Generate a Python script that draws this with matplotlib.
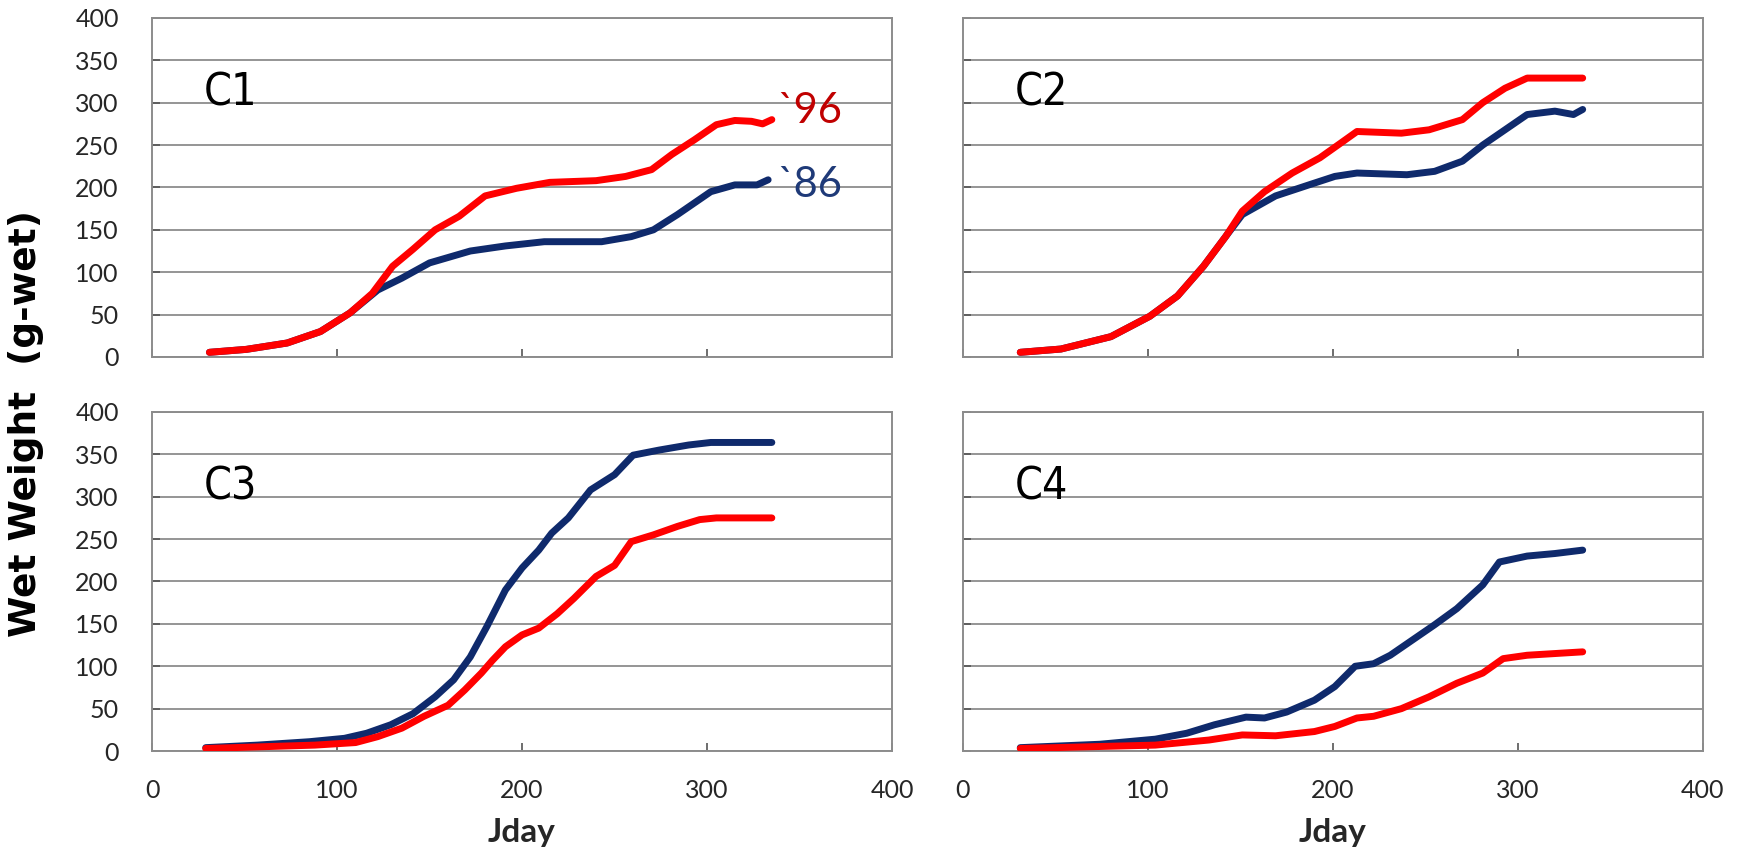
import numpy as np
import matplotlib
matplotlib.use('Agg')
import matplotlib.pyplot as plt

# Datos (Jday, peso humedo en g)
# C1
c1_x_96 = [31, 51, 73, 91, 107, 119, 130, 141, 153, 166, 180, 197, 215, 240, 256, 270, 281, 293, 305, 315, 324, 330, 335]
c1_y_96 = [5.5, 9, 16.5, 30, 52, 75, 107, 127, 150, 166, 190, 199, 206, 208, 213, 221, 239, 256, 274, 279, 278, 275, 280]
c1_x_86 = [31, 51, 73, 91, 107, 122, 135, 150, 172, 191, 212, 243, 259, 271, 284, 302, 315, 327, 333]
c1_y_86 = [5.5, 9, 16.5, 30, 52, 79, 93, 111, 125, 131, 136, 136, 142, 150, 168, 195, 203, 203, 209]
# C2
c2_x_96 = [31, 53, 80, 101, 116, 130, 142, 151, 163, 178, 193, 204, 213, 237, 252, 270, 281, 293, 305, 335]
c2_y_96 = [5.5, 9.4, 24, 48, 72, 107, 142, 172, 195, 217, 235, 252, 266, 264, 268, 280, 300, 317, 329, 329]
c2_x_86 = [31, 53, 80, 101, 116, 130, 142, 151, 169, 187, 201, 213, 240, 255, 270, 281, 293, 305, 320, 330, 335]
c2_y_86 = [5.5, 9.4, 24, 48, 72, 107, 142, 168, 190, 203, 213, 217, 215, 219, 231, 250, 268, 286, 290, 286, 292]
# C3
c3_x_86 = [29, 57, 85, 104, 116, 129, 141, 153, 163, 172, 181, 191, 200, 209, 216, 225, 237, 250, 260, 274, 290, 302, 335]
c3_y_86 = [4, 7, 11, 15, 21, 31, 44, 64, 84, 111, 147, 190, 216, 237, 257, 275, 308, 326, 349, 355, 361, 364, 364]
c3_x_96 = [29, 88, 110, 122, 135, 147, 160, 169, 178, 184, 191, 200, 209, 219, 228, 240, 250, 259, 271, 284, 296, 305, 335]
c3_y_96 = [3, 7, 10, 17, 27, 41, 54, 72, 92, 107, 123, 137, 145, 162, 180, 206, 219, 247, 255, 265, 273, 275, 275]
# C4
c4_x_86 = [31, 74, 104, 121, 136, 153, 163, 175, 190, 201, 212, 222, 231, 243, 255, 267, 281, 290, 305, 320, 335]
c4_y_86 = [4, 8, 14, 21, 31, 40, 39, 46, 60, 76, 100, 103, 113, 131, 149, 168, 196, 223, 230, 233, 237]
c4_x_96 = [31, 104, 133, 151, 169, 190, 201, 213, 222, 237, 252, 267, 281, 292, 305, 320, 335]
c4_y_96 = [3, 7, 13, 19, 18, 23, 29, 39, 41, 50, 64, 80, 92, 109, 113, 115, 117]

paneles = ['C1', 'C2', 'C3', 'C4']
datos = [(c1_x_96, c1_y_96, c1_x_86, c1_y_86),
         (c2_x_96, c2_y_96, c2_x_86, c2_y_86),
         (c3_x_96, c3_y_96, c3_x_86, c3_y_86),
         (c4_x_96, c4_y_96, c4_x_86, c4_y_86)]

rojo = '#FF0000'
azul = '#0F2A6C'
gris = '#8C8C8C'

fig = plt.figure(figsize=(17.4, 8.52), dpi=100)
# posiciones de los ejes [izq, abajo, ancho, alto]
pos = [[0.0874, 0.581, 0.4253, 0.398],
       [0.5534, 0.581, 0.4253, 0.398],
       [0.0874, 0.1185, 0.4253, 0.398],
       [0.5534, 0.1185, 0.4253, 0.398]]

for k in range(4):
    ax = fig.add_axes(pos[k])
    x96, y96, x86, y86 = datos[k]
    # primero la azul y luego la roja encima (en C1/C2 la roja tapa la azul al inicio)
    ax.plot(x86, y86, color=azul, lw=5, solid_capstyle='round', solid_joinstyle='round', zorder=3)
    ax.plot(x96, y96, color=rojo, lw=5, solid_capstyle='round', solid_joinstyle='round', zorder=4)
    ax.set_xlim(0, 400)
    ax.set_ylim(0, 400)
    ax.set_xticks(np.arange(0, 401, 100))
    ax.set_yticks(np.arange(0, 401, 50))
    ax.yaxis.grid(True, color=gris, lw=1.3)
    ax.set_axisbelow(True)
    for s in ax.spines.values():
        s.set_color(gris)
        s.set_linewidth(1.4)
    ax.tick_params(direction='in', length=6, color='#555555', width=1.2,
                   labelsize=18, labelcolor='#262626')
    ax.tick_params(axis='x', pad=20)
    ax.tick_params(axis='y', pad=24)
    for lab in ax.get_xticklabels() + ax.get_yticklabels():
        lab.set_family(['Lato', 'DejaVu Sans'])
    if k < 2:
        ax.set_xticklabels([])
    else:
        ax.set_xlabel('Jday', fontsize=24, fontweight='bold', family=['Lato', 'DejaVu Sans'],
                      color='#262626', labelpad=12)
    if k % 2 == 1:
        ax.set_yticklabels([])
    ax.text(28, 297, paneles[k], fontsize=32, family='DejaVu Sans', fontstretch='condensed',
            color='black', va='baseline', zorder=5)
    if k == 0:
        ax.text(338, 276, '`96', fontsize=30, color='#C00000', va='baseline',
                family=['Lato', 'DejaVu Sans'], zorder=5)
        ax.text(338, 189, '`86', fontsize=30, color='#1F3A78', va='baseline',
                family=['Lato', 'DejaVu Sans'], zorder=5)

fig.text(0.015, 0.503, 'Wet Weight  (g-wet)', rotation=90, fontsize=27, fontweight='bold',
         va='center', ha='center', color='black')

plt.savefig('out.png', dpi=100)
